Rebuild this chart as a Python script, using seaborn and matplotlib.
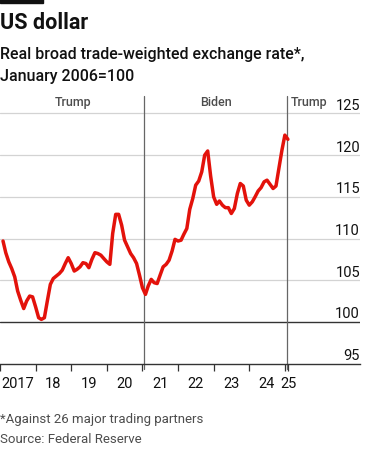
import numpy as np
import pandas as pd
import matplotlib
matplotlib.use('Agg')
import matplotlib.pyplot as plt
import seaborn as sns

# monthly values, Feb 2017 - Feb 2025
values = [
    109.7, 108.3, 107.2, 106.4, 105.4, 103.7, 102.6, 101.6, 102.5, 103.1, 103.0,  # 2017 Feb-Dec
    101.8, 100.5, 100.3, 100.5, 102.5, 104.5, 105.2, 105.5, 105.8, 106.2, 107.0, 107.7,  # 2018
    107.0, 106.1, 106.3, 106.6, 107.1, 107.0, 106.5, 107.5, 108.3, 108.2, 108.0, 107.6,  # 2019
    107.2, 106.9, 110.6, 112.9, 112.9, 111.6, 109.8, 109.0, 108.2, 107.7, 107.0, 105.6,  # 2020
    104.1, 103.3, 104.3, 105.1, 104.7, 104.6, 105.6, 106.6, 106.9, 107.4, 108.5, 109.9,  # 2021
    109.7, 109.8, 110.5, 111.2, 113.5, 114.8, 116.4, 116.9, 118.0, 120.0, 120.5, 117.5,  # 2022
    115.0, 114.1, 114.5, 114.0, 113.7, 113.7, 113.0, 113.6, 115.4, 116.6, 116.3, 114.6,  # 2023
    114.0, 114.4, 115.0, 115.7, 116.1, 116.8, 117.0, 116.5, 116.0, 116.3, 118.5, 120.6,  # 2024
    122.4, 121.9,  # 2025 Jan-Feb
]
start_year, start_month = 2017, 2
presidents = ['Trump', 'Biden', 'Trump']
inaugurations = ['2017-01-20', '2021-01-20', '2025-01-20']
year_labels = ['2017', '18', '19', '20', '21', '22', '23', '24']
last_label = '25'
y_ticks = [95, 100, 105, 110, 115, 120, 125]

dates = pd.date_range(f'{start_year}-{start_month:02d}-01', periods=len(values), freq='MS')


def dec_year(d):
    d = pd.Timestamp(d)
    return d.year + (d.dayofyear - 1) / 365.0


df = pd.DataFrame({'t': [dec_year(d) for d in dates], 'rate': values})

sns.set_style('white')
plt.rcParams['font.family'] = ['Roboto', 'DejaVu Sans']

RED = '#E3120B'
GREY = '#4d4d4d'

fig = plt.figure(figsize=(3.75, 4.52), dpi=100)
ax = fig.add_axes([0.0, 0.1925, 0.96, 0.593])

# gridlines
for v in y_ticks[1:]:
    ax.axhline(v, color='#333333' if v == 100 else '#d3d3d3',
               lw=1.0 if v == 100 else 0.9, zorder=1)

# presidency dividers
inaug = [dec_year(d) for d in inaugurations]
for x in inaug[1:]:
    ax.axvline(x, ymin=-0.02, ymax=1.0, color='#666666', lw=0.9, zorder=2, clip_on=False)

sns.lineplot(data=df, x='t', y='rate', color=RED, lw=2.5, ax=ax, zorder=3)

ax.set_xlim(2017.0, 2027.11)
ax.set_ylim(94.95, 127.1)

# president labels
ax.text((inaug[0] + inaug[1]) / 2, 126.4, presidents[0], ha='center', va='center',
        fontsize=9, color=GREY, fontweight='medium')
ax.text((inaug[1] + inaug[2]) / 2, 126.4, presidents[1], ha='center', va='center',
        fontsize=9, color=GREY, fontweight='medium')
ax.text(inaug[2] + 0.1, 126.4, presidents[2], ha='left', va='center',
        fontsize=9, color=GREY, fontweight='medium')

# y labels inside, right, above gridlines
ax.set_yticks([])
for v in y_ticks:
    ax.annotate(str(v), xy=(1.0, v), xycoords=('axes fraction', 'data'),
                xytext=(0, 1), textcoords='offset points',
                ha='right', va='bottom', fontsize=10.5, color='#111111')

# x ticks
years = list(range(2017, 2026))
end_t = df['t'].iloc[-1] + 0.01
ax.set_xticks(years + [end_t])
ax.set_xticklabels([''] * len(years) + [last_label])
ax.set_xticks([y + 0.5 for y in range(2017, 2025)], minor=True)
ax.set_xticklabels(year_labels, minor=True)
ax.tick_params(axis='x', which='major', length=5, width=0.9, color='#333333',
               labelsize=10.5, pad=4, bottom=True)
ax.tick_params(axis='x', which='minor', length=0, labelsize=10.5, pad=9, bottom=True)
for lab in ax.get_xticklabels(which='both'):
    lab.set_color('#111111')

ax.set_xlabel('')
ax.set_ylabel('')
for s in ['top', 'right', 'left']:
    ax.spines[s].set_visible(False)
ax.spines['bottom'].set_color('#333333')
ax.spines['bottom'].set_linewidth(1.0)
ax.set_facecolor('none')

# header
fig.patches.append(plt.Rectangle((0, 1 - 4 / 452), 43 / 375, 4 / 452,
                                 transform=fig.transFigure, color='#111111'))
fig.text(0.0, 1 - 23 / 452, 'US dollar', fontsize=15.5, fontweight='bold',
         ha='left', va='center', color='#111111')
fig.text(0.0, 1 - 55 / 452, 'Real broad trade-weighted exchange rate*,',
         fontsize=11.5, fontweight='medium', ha='left', va='center', color='#111111')
fig.text(0.0, 1 - 76 / 452, 'January 2006=100',
         fontsize=11.5, fontweight='medium', ha='left', va='center', color='#111111')

# footer
fig.text(0.0, 1 - 420 / 452, '*Against 26 major trading partners',
         fontsize=9.5, ha='left', va='center', color=GREY)
fig.text(0.0, 1 - 440 / 452, 'Source: Federal Reserve',
         fontsize=9.5, ha='left', va='center', color=GREY)

fig.savefig('out.png', dpi=100)
